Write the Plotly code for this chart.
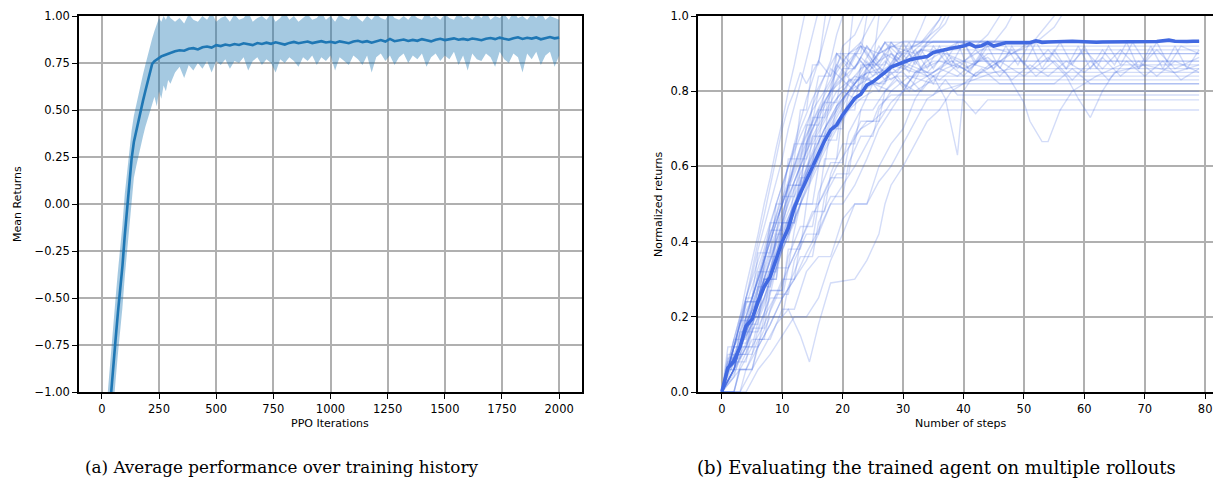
import plotly.graph_objects as go

# ---------------- Left panel data: PPO training history ----------------
iters_rise = list(range(0, 301, 10))
iters_plateau = list(range(320, 2001, 20))
ppo_iters = iters_rise + iters_plateau

mean_rise = [-1.6, -1.45, -1.3, -1.13, -0.99, -0.85, -0.72, -0.58, -0.47, -0.33,
             -0.17, -0.03, 0.10, 0.24, 0.33, 0.39, 0.45, 0.50, 0.55, 0.60,
             0.65, 0.70, 0.745, 0.76, 0.77, 0.775, 0.785, 0.79, 0.795, 0.80,
             0.805]
upper_rise = [-1.38, -1.23, -1.08, -0.91, -0.77, -0.63, -0.5, -0.36, -0.25, -0.11,
              0.05, 0.17, 0.28, 0.39, 0.47, 0.53, 0.59, 0.64, 0.69, 0.74,
              0.79, 0.84, 0.88, 0.92, 0.95, 0.99, 0.97, 1.0, 0.98, 1.01,
              0.99]
lower_rise = [-1.82, -1.67, -1.52, -1.35, -1.21, -1.07, -0.94, -0.8, -0.69, -0.55,
              -0.39, -0.25, -0.12, 0.04, 0.14, 0.2, 0.26, 0.31, 0.36, 0.41,
              0.45, 0.49, 0.53, 0.57, 0.52, 0.6, 0.56, 0.63, 0.6, 0.66,
              0.64]

mean_plateau = [0.812, 0.818, 0.815, 0.826, 0.829, 0.822, 0.834, 0.838, 0.832, 0.845,
                0.840, 0.848, 0.843, 0.851, 0.846, 0.855, 0.849, 0.845, 0.856, 0.851,
                0.858, 0.852, 0.860, 0.854, 0.848, 0.857, 0.862, 0.855, 0.859, 0.864,
                0.856, 0.861, 0.866, 0.859, 0.863, 0.857, 0.865, 0.860, 0.855, 0.864,
                0.868, 0.861, 0.866, 0.858, 0.867, 0.872, 0.864, 0.878, 0.866, 0.871,
                0.875, 0.867, 0.873, 0.868, 0.877, 0.871, 0.865, 0.874, 0.879, 0.872,
                0.877, 0.881, 0.874, 0.878, 0.873, 0.880, 0.876, 0.871, 0.879, 0.883,
                0.877, 0.885, 0.879, 0.874, 0.882, 0.887, 0.878, 0.884, 0.880, 0.886,
                0.876, 0.883, 0.888, 0.881, 0.885]
upper_plateau = [0.97, 0.99, 0.96, 1.01, 0.98, 0.97, 1.0, 0.98, 1.02, 0.97,
                 0.99, 1.0, 0.97, 1.01, 0.98, 0.99, 1.02, 0.97, 0.99, 1.0,
                 0.98, 1.01, 0.97, 0.99, 1.02, 0.98, 1.0, 0.97, 0.99, 1.01,
                 0.98, 0.99, 1.02, 0.98, 1.0, 0.97, 1.01, 0.99, 0.98, 1.02,
                 0.99, 0.97, 1.0, 0.98, 1.01, 0.99, 0.98, 1.02, 0.99, 0.98,
                 1.0, 0.98, 1.01, 0.99, 0.98, 1.02, 0.99, 1.0, 0.98, 1.01,
                 0.99, 0.98, 1.02, 0.99, 1.0, 0.98, 1.01, 0.99, 1.02, 0.98,
                 1.0, 0.99, 1.01, 0.98, 1.02, 0.99, 1.0, 0.98, 1.01, 0.99,
                 1.02, 0.98, 1.0, 0.99, 0.98]
lower_plateau = [0.70, 0.73, 0.67, 0.74, 0.71, 0.75, 0.72, 0.76, 0.70, 0.76,
                 0.74, 0.77, 0.72, 0.76, 0.75, 0.78, 0.71, 0.76, 0.78, 0.74,
                 0.77, 0.75, 0.70, 0.77, 0.75, 0.78, 0.76, 0.73, 0.78, 0.76,
                 0.79, 0.74, 0.78, 0.76, 0.79, 0.71, 0.78, 0.76, 0.74, 0.79,
                 0.77, 0.74, 0.79, 0.70, 0.78, 0.80, 0.76, 0.79, 0.74, 0.78,
                 0.80, 0.75, 0.79, 0.77, 0.80, 0.73, 0.78, 0.80, 0.76, 0.79,
                 0.77, 0.81, 0.74, 0.79, 0.71, 0.80, 0.77, 0.76, 0.80, 0.78,
                 0.73, 0.81, 0.77, 0.75, 0.80, 0.78, 0.70, 0.80, 0.77, 0.81,
                 0.74, 0.79, 0.81, 0.73, 0.79]

mean_returns = mean_rise + mean_plateau
upper_returns = upper_rise + upper_plateau
lower_returns = lower_rise + lower_plateau

# ---------------- Right panel data: evaluation rollouts ----------------
steps = list(range(0, 80))
mean_normalized = [0.0, 0.064, 0.081, 0.12, 0.175, 0.194, 0.24, 0.28, 0.307, 0.355,
                   0.40, 0.436, 0.49, 0.529, 0.565, 0.60, 0.635, 0.668, 0.697, 0.71,
                   0.737, 0.759, 0.781, 0.792, 0.816, 0.825, 0.837, 0.85, 0.864, 0.871,
                   0.878, 0.883, 0.887, 0.889, 0.892, 0.903, 0.907, 0.912, 0.914, 0.917,
                   0.92, 0.926, 0.918, 0.921, 0.929, 0.92, 0.925, 0.929, 0.929, 0.929,
                   0.928, 0.929, 0.934, 0.93, 0.931, 0.932, 0.932, 0.934, 0.933, 0.932,
                   0.931, 0.93, 0.93, 0.931, 0.931, 0.932, 0.933, 0.933, 0.933, 0.933,
                   0.933, 0.933, 0.932, 0.934, 0.936, 0.933, 0.932, 0.932, 0.933, 0.933]

# individual rollouts as (step, normalized return) breakpoints
rollout_paths = [
    [(0,0),(1,0.06),(2,0.12),(4,0.25),(5,0.31),(6,0.38),(8,0.5),(10,0.62),(11,0.7),(13,0.82),(15,0.95),(17,1.08)],
    [(0,0),(2,0.06),(3,0.12),(5,0.22),(7,0.35),(9,0.47),(11,0.6),(13,0.72),(14,0.78),(16,0.88),(18,1.0),(20,1.12)],
    [(0,0),(1,0.06),(3,0.12),(4,0.18),(6,0.25),(8,0.36),(10,0.45),(12,0.56),(14,0.65),(16,0.74),(18,0.8),(20,0.86),(22,0.9),(24,0.96),(26,1.02),(28,1.1)],
    [(0,0),(2,0.06),(4,0.12),(6,0.2),(8,0.3),(10,0.38),(12,0.45),(14,0.55),(16,0.62),(18,0.7),(20,0.76),(22,0.82),(24,0.85),(26,0.88),(28,0.9),(30,0.88),(32,0.91),(34,0.94),(36,0.99),(38,1.05),(40,1.12)],
    [(0,0),(1,0.06),(3,0.12),(5,0.2),(7,0.3),(9,0.4),(11,0.5),(13,0.58),(15,0.66),(17,0.72),(19,0.78),(21,0.82),(23,0.86),(25,0.88),(27,0.85),(29,0.9),(31,0.87),(33,0.91),(36,0.9),(39,0.93),(42,0.92),(44,0.95),(46,1.0),(48,1.06)],
    [(0,0),(2,0.06),(3,0.12),(5,0.18),(7,0.28),(9,0.37),(11,0.46),(13,0.55),(15,0.63),(17,0.7),(19,0.75),(21,0.8),(23,0.84),(26,0.86),(28,0.83),(31,0.87),(34,0.85),(37,0.9),(40,0.88),(44,0.92),(48,0.9),(52,0.93),(55,0.97),(57,1.02),(59,1.08)],
    [(0,0),(1,0.06),(2,0.12),(3,0.18),(5,0.25),(6,0.31),(7,0.37),(9,0.47),(11,0.56),(13,0.65),(15,0.72),(17,0.79),(19,0.85),(21,0.9),(23,0.93),(25,0.88),(27,0.93),(30,0.93),(32,0.87),(34,0.93),(40,0.93),(42,0.88),(44,0.93),(79,0.933)],
    [(0,0),(1,0.06),(3,0.12),(4,0.2),(6,0.3),(8,0.4),(10,0.5),(12,0.58),(14,0.66),(16,0.74),(18,0.8),(20,0.85),(22,0.82),(24,0.88),(26,0.84),(28,0.9),(30,0.86),(32,0.91),(34,0.86),(36,0.92),(38,0.87),(40,0.93),(42,0.87),(44,0.92),(46,0.86),(48,0.92),(50,0.87),(52,0.93),(54,0.88),(56,0.93),(58,0.87),(60,0.92),(62,0.86),(64,0.92),(66,0.87),(68,0.93),(70,0.88),(72,0.93),(74,0.87),(76,0.92),(79,0.9)],
    [(0,0),(2,0),(3,0.06),(5,0.12),(7,0.18),(9,0.25),(11,0.33),(13,0.4),(15,0.47),(17,0.53),(19,0.6),(21,0.65),(23,0.7),(25,0.72),(27,0.75),(79,0.75)],
    [(0,0),(1,0.06),(3,0.12),(5,0.2),(6,0.25),(8,0.35),(10,0.43),(12,0.5),(14,0.58),(16,0.64),(18,0.7),(20,0.74),(22,0.777),(40,0.777),(42,0.74),(44,0.777),(79,0.777)],
    [(0,0),(3,0),(5,0.06),(7,0.12),(9,0.18),(11,0.22),(13,0.15),(14.5,0.08),(16,0.18),(18,0.29),(22,0.3),(24,0.35),(26,0.42),(27,0.5),(28,0.55),(30,0.6),(32,0.66),(34,0.72),(36,0.75),(38,0.8),(40,0.82),(45,0.85),(48,0.86),(79,0.86)],
    [(0,0),(1,0.06),(2,0.12),(4,0.2),(6,0.3),(8,0.42),(10,0.5),(12,0.6),(14,0.68),(16,0.75),(18,0.8),(20,0.83),(22,0.8),(24,0.85),(30,0.85),(33,0.8),(35,0.84),(37,0.78),(39,0.63),(40,0.8),(42,0.85),(79,0.85)],
    [(0,0),(2,0.06),(3,0.12),(5,0.18),(7,0.25),(9,0.35),(11,0.45),(13,0.54),(15,0.62),(17,0.7),(19,0.76),(21,0.8),(24,0.83),(28,0.87),(32,0.85),(36,0.88),(40,0.86),(44,0.89),(47,0.85),(50,0.77),(51,0.72),(53,0.666),(54,0.666),(56,0.75),(58,0.8),(62,0.84),(66,0.87),(79,0.87)],
    [(0,0),(1,0.06),(3,0.14),(5,0.22),(7,0.32),(9,0.42),(11,0.52),(13,0.6),(15,0.68),(17,0.74),(19,0.8),(22,0.84),(26,0.82),(30,0.87),(34,0.84),(38,0.88),(42,0.84),(46,0.88),(50,0.84),(54,0.89),(57,0.84),(59,0.78),(61,0.73),(63,0.8),(65,0.85),(70,0.87),(75,0.85),(79,0.87)],
    [(0,0),(1,0.06),(2,0.12),(3,0.18),(4,0.25),(5,0.3),(7,0.4),(9,0.5),(11,0.6),(13,0.68),(15,0.75),(17,0.8),(19,0.86),(21,0.9),(23,0.92),(26,0.9),(30,0.933),(79,0.933)],
    [(0,0),(1,0.06),(2,0.12),(3,0.12),(4,0.18),(6,0.25),(8,0.33),(10,0.42),(12,0.5),(14,0.58),(16,0.65),(18,0.72),(20,0.78),(22,0.82),(24,0.86),(26,0.9),(28,0.92),(32,0.9),(35,0.933),(79,0.933)],
    [(0,0),(2,0.06),(4,0.12),(5,0.18),(7,0.25),(9,0.33),(11,0.42),(13,0.5),(15,0.57),(17,0.64),(19,0.7),(21,0.75),(23,0.78),(25,0.8),(79,0.8)],
    [(0,0),(1,0.06),(3,0.12),(4,0.18),(6,0.28),(8,0.38),(10,0.48),(12,0.56),(14,0.64),(16,0.7),(18,0.76),(20,0.8),(22,0.78),(25,0.82),(28,0.8),(31,0.84),(35,0.82),(40,0.82),(43,0.86),(46,0.82),(55,0.82),(58,0.86),(61,0.82),(79,0.82)],
    [(0,0),(1,0.06),(2,0.06),(3,0.12),(5,0.2),(7,0.3),(9,0.4),(11,0.48),(13,0.56),(15,0.63),(17,0.7),(19,0.76),(21,0.8),(23,0.84),(26,0.82),(29,0.84),(79,0.84)],
    [(0,0),(1,0.06),(2,0.12),(4,0.18),(5,0.25),(7,0.35),(9,0.45),(11,0.55),(13,0.63),(15,0.7),(17,0.76),(19,0.82),(21,0.85),(23,0.88),(25,0.84),(27,0.88),(29,0.85),(31,0.9),(33,0.86),(35,0.88),(79,0.88)],
    [(0,0),(1,0.06),(2,0.12),(3,0.18),(5,0.28),(7,0.38),(9,0.5),(11,0.6),(13,0.7),(15,0.78),(17,0.84),(19,0.9),(21,0.86),(23,0.92),(25,0.87),(27,0.93),(29,0.88),(31,0.93),(33,0.86),(35,0.92),(37,0.88),(39,0.93),(41,0.85),(43,0.9),(45,0.86),(47,0.92),(49,0.87),(51,0.93),(53,0.86),(55,0.91),(57,0.86),(59,0.92),(61,0.86),(63,0.91),(65,0.87),(67,0.93),(69,0.86),(71,0.92),(73,0.86),(75,0.92),(77,0.86),(79,0.91)],
    [(0,0),(2,0.06),(3,0.12),(4,0.12),(6,0.2),(8,0.28),(10,0.38),(12,0.46),(14,0.54),(16,0.62),(18,0.68),(20,0.74),(22,0.8),(24,0.84),(26,0.8),(28,0.85),(30,0.81),(33,0.86),(36,0.83),(39,0.87),(42,0.84),(45,0.88),(48,0.83),(51,0.87),(54,0.84),(57,0.88),(60,0.85),(63,0.89),(66,0.84),(69,0.88),(72,0.84),(75,0.88),(79,0.85)],
    [(0,0),(3,0),(4,0.06),(6,0.12),(8,0.18),(10,0.25),(12,0.3),(14,0.37),(16,0.43),(18,0.5),(20,0.5),(22,0.55),(24,0.62),(26,0.7),(28,0.75),(30,0.8),(32,0.85),(34,0.88),(36,0.9),(79,0.9)],
    [(0,0),(1,0.08),(2,0.14),(3,0.2),(4,0.25),(5,0.33),(6,0.4),(7,0.47),(8,0.55),(9,0.62),(10,0.7),(11,0.76),(12,0.8),(13,0.85),(14,0.82),(16,0.88),(18,0.84),(20,0.9),(22,0.86),(24,0.92),(26,0.87),(28,0.92),(79,0.92)],
    [(0,0),(2,0),(3,0.06),(5,0.06),(6,0.12),(8,0.18),(10,0.25),(12,0.3),(14,0.35),(16,0.42),(18,0.5),(20,0.55),(22,0.6),(24,0.66),(26,0.72),(28,0.77),(30,0.8),(33,0.83),(36,0.86),(39,0.84),(42,0.88),(79,0.88)],
    [(0,0),(4,0),(6,0.06),(8,0.1),(10,0.15),(12,0.2),(14,0.2),(16,0.25),(18,0.35),(20,0.42),(22,0.5),(24,0.5),(26,0.56),(28,0.6),(30,0.66),(32,0.72),(34,0.78),(36,0.8),(40,0.82),(79,0.82)],
    [(0,0),(1,0.06),(2,0.14),(3,0.2),(4,0.28),(5,0.35),(6,0.42),(7,0.5),(8,0.57),(9,0.65),(10,0.72),(11,0.8),(12,0.87),(13,0.95),(14,1.02),(15,1.1)],
    [(0,0),(1,0.06),(3,0.12),(4,0.2),(6,0.3),(8,0.4),(10,0.5),(12,0.6),(14,0.7),(15,0.76),(16,0.8),(18,0.88),(19,0.95),(20,1.0),(21,1.05),(22,1.1)],
    [(0,0),(2,0.06),(3,0.12),(5,0.2),(7,0.28),(9,0.36),(11,0.45),(13,0.53),(15,0.6),(17,0.68),(19,0.74),(21,0.8),(23,0.86),(25,0.92),(27,0.97),(29,1.02),(31,1.08)],
    [(0,0),(1,0.1),(3,0.1),(4,0.2),(6,0.2),(7,0.3),(9,0.3),(10,0.45),(12,0.45),(13,0.6),(15,0.6),(16,0.75),(18,0.75),(19,0.9),(21,0.9),(22,1.05)],
    [(0,0),(2,0.08),(4,0.08),(5,0.17),(7,0.17),(8,0.27),(10,0.27),(11,0.38),(13,0.38),(14,0.5),(16,0.5),(17,0.62),(19,0.62),(20,0.75),(22,0.75),(23,0.87),(25,0.87),(26,1.0),(28,1.1)],
    [(0,0),(1,0.12),(3,0.12),(4,0.25),(5,0.25),(6,0.37),(8,0.37),(9,0.5),(10,0.5),(11,0.62),(12,0.62),(13,0.75),(14,0.75),(15,0.87),(16,0.87),(17,1.0),(18,1.1)],
    [(0,0),(2,0),(3,0.07),(5,0.14),(7,0.14),(8,0.22),(10,0.3),(12,0.3),(13,0.4),(15,0.48),(17,0.48),(18,0.58),(20,0.66),(22,0.66),(23,0.75),(25,0.82),(27,0.82),(29,0.9),(31,0.9),(33,0.97),(35,1.05)],
    [(0,0),(1,0.06),(2,0.06),(3,0.16),(5,0.16),(6,0.28),(8,0.28),(9,0.4),(11,0.4),(12,0.5),(14,0.5),(15,0.6),(17,0.6),(18,0.7),(20,0.7),(21,0.8),(23,0.8),(24,0.87),(27,0.87),(28,0.93),(31,0.88),(34,0.93),(37,0.98),(39,1.05)],
    [(0,0),(1,0.09),(3,0.09),(4,0.18),(6,0.18),(7,0.3),(8,0.3),(9,0.42),(11,0.42),(12,0.55),(13,0.55),(14,0.66),(16,0.66),(17,0.77),(19,0.77),(20,0.86),(22,0.86),(24,0.92),(26,0.88),(28,0.93),(30,0.89),(32,0.93),(45,0.93),(47,0.97),(49,1.03),(51,1.1)],
    [(0,0),(2,0.05),(4,0.12),(6,0.12),(7,0.2),(9,0.26),(11,0.26),(12,0.35),(14,0.42),(16,0.42),(17,0.52),(19,0.58),(21,0.58),(22,0.68),(24,0.72),(26,0.72),(27,0.8),(29,0.84),(31,0.8),(33,0.86),(35,0.82),(37,0.88),(40,0.84),(43,0.89),(46,0.84),(49,0.89),(52,0.84),(55,0.88),(58,0.83),(61,0.88),(64,0.83),(67,0.88),(70,0.84),(73,0.88),(76,0.83),(79,0.86)],
    [(0,0),(1,0.06),(2,0.12),(3,0.18),(4,0.24),(6,0.24),(7,0.35),(8,0.45),(10,0.45),(11,0.56),(12,0.66),(14,0.66),(15,0.76),(16,0.84),(18,0.84),(19,0.9),(21,0.87),(23,0.92),(25,0.88),(27,0.93),(29,0.9),(33,0.93),(36,0.97),(38,1.03),(40,1.1)],
    [(0,0),(3,0.06),(5,0.06),(6,0.13),(8,0.2),(10,0.2),(11,0.28),(13,0.36),(15,0.36),(16,0.45),(18,0.52),(20,0.52),(21,0.61),(23,0.68),(25,0.68),(26,0.75),(28,0.8),(30,0.8),(32,0.85),(35,0.85),(38,0.89),(41,0.86),(44,0.9),(79,0.9)],
    [(0,0),(1,0.07),(2,0.14),(4,0.14),(5,0.23),(6,0.32),(8,0.32),(9,0.42),(10,0.52),(12,0.52),(13,0.62),(14,0.71),(16,0.71),(17,0.8),(18,0.86),(20,0.83),(22,0.9),(24,0.86),(26,0.92),(28,0.87),(30,0.93),(79,0.93)],
    [(0,0),(1,0.05),(3,0.1),(5,0.1),(6,0.17),(8,0.25),(10,0.25),(11,0.33),(13,0.4),(15,0.4),(16,0.5),(18,0.57),(20,0.57),(21,0.65),(23,0.72),(25,0.72),(26,0.76),(28,0.79),(35,0.79),(37,0.83),(39,0.79),(79,0.79)],
    [(0,0),(2,0.1),(4,0.1),(5,0.2),(7,0.2),(8,0.32),(9,0.32),(10,0.45),(12,0.45),(13,0.57),(14,0.57),(15,0.68),(17,0.68),(18,0.8),(20,0.8),(21,0.9),(23,0.9),(24,1.0),(26,1.1)],
    [(0,0),(1,0.06),(3,0.13),(4,0.13),(5,0.2),(7,0.3),(9,0.3),(10,0.4),(12,0.5),(13,0.5),(14,0.6),(16,0.68),(18,0.68),(19,0.76),(21,0.83),(23,0.8),(25,0.87),(27,0.83),(29,0.89),(31,0.85),(33,0.91),(35,0.86),(37,0.91),(39,0.86),(42,0.91),(45,0.86),(48,0.91),(51,0.86),(54,0.91),(57,0.86),(60,0.91),(63,0.86),(66,0.91),(69,0.86),(72,0.91),(75,0.86),(79,0.89)],
    [(0,0),(2,0.04),(3,0.1),(5,0.16),(6,0.16),(8,0.26),(9,0.33),(11,0.33),(12,0.43),(13,0.5),(15,0.5),(16,0.6),(17,0.67),(19,0.67),(20,0.77),(21,0.83),(23,0.83),(25,0.88),(27,0.85),(30,0.9),(33,0.93),(36,0.99),(38,1.06)],
    [(0,0),(1,0.08),(2,0.08),(3,0.16),(4,0.24),(6,0.24),(7,0.34),(8,0.43),(10,0.43),(11,0.53),(12,0.62),(14,0.62),(15,0.72),(16,0.8),(18,0.8),(19,0.86),(20,0.92),(22,0.95),(24,1.02),(26,1.08)],
    [(0,0),(2,0.06),(4,0.06),(6,0.14),(8,0.14),(10,0.22),(12,0.22),(14,0.32),(16,0.36),(18,0.36),(20,0.46),(22,0.5),(24,0.5),(26,0.6),(28,0.66),(30,0.7),(32,0.78),(34,0.83),(37,0.86),(40,0.88),(44,0.86),(48,0.9),(52,0.94),(55,1.0),(57,1.06)],
    [(0,0),(1,0.06),(2,0.12),(3,0.19),(5,0.19),(6,0.27),(7,0.36),(9,0.36),(10,0.46),(11,0.55),(13,0.55),(14,0.65),(15,0.73),(17,0.73),(18,0.81),(19,0.87),(21,0.84),(23,0.89),(25,0.86),(27,0.9),(30,0.87),(33,0.91),(79,0.91)],
    [(0,0),(2,0.06),(3,0.12),(5,0.12),(6,0.19),(8,0.27),(10,0.27),(11,0.36),(13,0.44),(15,0.44),(16,0.53),(18,0.61),(20,0.61),(21,0.69),(23,0.75),(25,0.75),(27,0.8),(29,0.83),(32,0.8),(35,0.83),(79,0.83)],
]

left_xticks = [0, 250, 500, 750, 1000, 1250, 1500, 1750, 2000]
left_yticks = [-1.0, -0.75, -0.5, -0.25, 0.0, 0.25, 0.5, 0.75, 1.0]
right_xticks = [0, 10, 20, 30, 40, 50, 60, 70, 80]
right_yticks = [0.0, 0.2, 0.4, 0.6, 0.8, 1.0]

# ---------------- Figure ----------------
W, H = 1213, 481
BLUE = "#1f77b4"
ROYAL = "#4169e1"

fig = go.Figure()

fig.add_trace(go.Scatter(x=ppo_iters, y=lower_returns, mode="lines",
                         line=dict(width=0, color=BLUE), showlegend=False,
                         hoverinfo="skip", xaxis="x", yaxis="y"))
fig.add_trace(go.Scatter(x=ppo_iters, y=upper_returns, mode="lines",
                         line=dict(width=0, color=BLUE), fill="tonexty",
                         fillcolor="rgba(31,119,180,0.4)", showlegend=False,
                         hoverinfo="skip", xaxis="x", yaxis="y"))
fig.add_trace(go.Scatter(x=ppo_iters, y=mean_returns, mode="lines",
                         line=dict(width=2.6, color=BLUE), showlegend=False,
                         xaxis="x", yaxis="y"))

for path in rollout_paths:
    fig.add_trace(go.Scatter(x=[p[0] for p in path], y=[p[1] for p in path],
                             mode="lines", line=dict(width=1.4, color="rgba(65,105,225,0.23)"),
                             showlegend=False, hoverinfo="skip", xaxis="x2", yaxis="y2"))
fig.add_trace(go.Scatter(x=steps, y=mean_normalized, mode="lines",
                         line=dict(width=3.6, color=ROYAL), showlegend=False,
                         xaxis="x2", yaxis="y2"))

tick_font = dict(family="DejaVu Sans", size=11.5, color="#000000")
axis_common = dict(showgrid=True, gridcolor="#b0b0b0", gridwidth=1.6,
                   showline=True, linecolor="#000000", linewidth=1.8,
                   ticks="outside", ticklen=5, tickwidth=1.2, tickcolor="#000000",
                   tickfont=tick_font, zeroline=False, automargin=False)

fig.update_layout(
    width=W, height=H,
    margin=dict(l=0, r=0, t=0, b=0),
    paper_bgcolor="white", plot_bgcolor="white",
    xaxis=dict(domain=[79 / W, 582 / W], range=[-100, 2100], tickvals=left_xticks,
               mirror=True, anchor="y", **axis_common),
    yaxis=dict(domain=[(H - 392) / H, (H - 16) / H], range=[-1.0, 1.0], tickvals=left_yticks,
               tickformat=".2f", mirror=True, anchor="x", **axis_common),
    xaxis2=dict(domain=[698 / W, 1.0], range=[-3.95, 81.3], tickvals=right_xticks,
                mirror=True, anchor="y2", **axis_common),
    yaxis2=dict(domain=[(H - 392) / H, (H - 16) / H], range=[0.0, 1.0], tickvals=right_yticks,
                tickformat=".1f", mirror=False, anchor="x2", **axis_common),
)

label_font = dict(family="DejaVu Sans", size=11, color="#000000")
cap_font_a = dict(family="DejaVu Serif", size=16.8, color="#000000")
cap_font_b = dict(family="DejaVu Serif", size=18.0, color="#000000")
annos = [
    dict(text="PPO Iterations", x=330 / W, y=(H - 423) / H, font=label_font),
    dict(text="Number of steps", x=961 / W, y=(H - 423) / H, font=label_font),
    dict(text="Mean Returns", x=17 / W, y=(H - 204) / H, font=label_font, textangle=-90),
    dict(text="Normalized returns", x=658 / W, y=(H - 204) / H, font=label_font, textangle=-90),
    dict(text="(a) Average performance over training history", x=281 / W, y=(H - 467) / H, font=cap_font_a),
    dict(text="(b) Evaluating the trained agent on multiple rollouts", x=936 / W, y=(H - 467) / H, font=cap_font_b),
]
for a in annos:
    fig.add_annotation(xref="paper", yref="paper", showarrow=False,
                       xanchor="center", yanchor="middle", **a)

fig.write_html("out.html", config={"displayModeBar": False},
               post_script="document.body.style.margin='0';document.body.style.padding='0';"
                           "document.body.style.overflow='hidden';")
